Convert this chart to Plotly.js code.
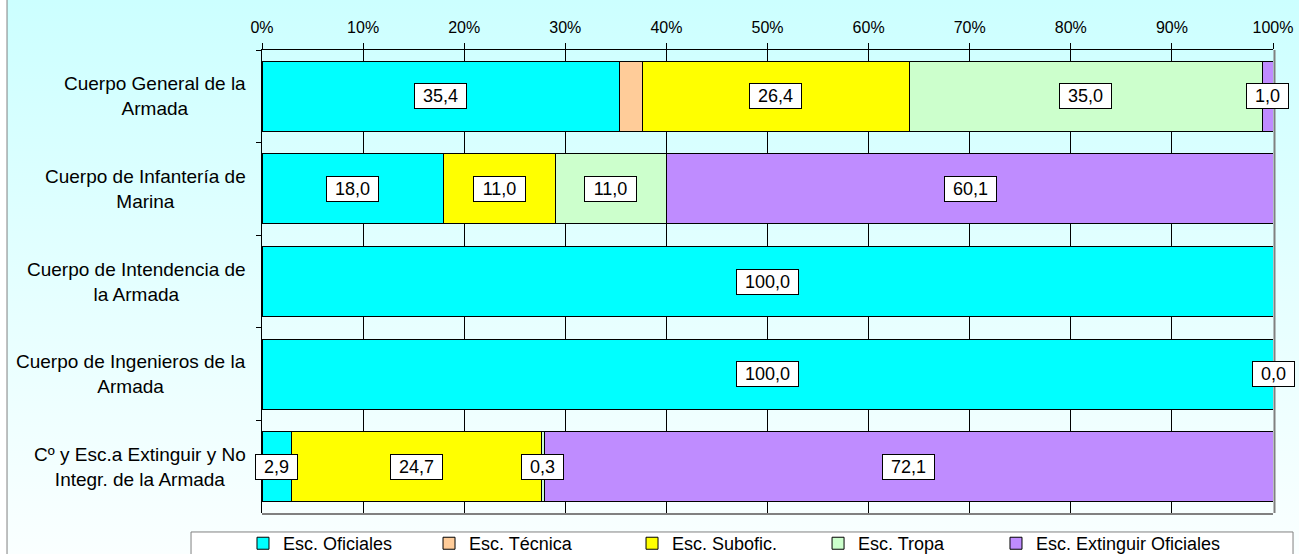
<!DOCTYPE html>
<html>
<head>
<meta charset="utf-8">
<script src="https://cdn.plot.ly/plotly-3.0.1.min.js"></script>
<style>
  html, body { margin: 0; padding: 0; background: #ffffff; }
  #chart { width: 1299px; height: 554px; background: linear-gradient(to bottom, #CCFFFF 0%, #E6FFFF 55%, #FAFFFF 100%); }
</style>
</head>
<body>
<div id="chart"></div>
<script>
// Categories (top to bottom)
const categories = [
  "Cuerpo General de la<br>Armada",
  "Cuerpo de Infantería de<br>Marina",
  "Cuerpo de Intendencia de<br>la Armada",
  "Cuerpo de Ingenieros de la<br>Armada",
  "Cº y Esc.a Extinguir y No<br>Integr. de la Armada"
];
const seriesNames = ["Esc. Oficiales", "Esc. Técnica", "Esc. Subofic.", "Esc. Tropa", "Esc. Extinguir Oficiales"];
const seriesColors = ["#00FFFF", "#FFCC99", "#FFFF00", "#CCFFCC", "#BF8CFF"];

// Values (%)
const oficiales = [35.4, 18.0, 100.0, 100.0, 2.9];
const tecnica   = [2.2, 0, 0, 0, 0];
const subofic   = [26.4, 11.0, 0, 0, 24.7];
const tropa     = [35.0, 11.0, 0, 0, 0.3];
const extinguir = [1.0, 60.1, 0, 0.0, 72.1];

// Which values carry a data label
const showOficiales = [true, true, true, true, true];
const showTecnica   = [false, false, false, false, false];
const showSubofic   = [true, true, false, false, true];
const showTropa     = [true, true, false, false, true];
const showExtinguir = [true, true, false, true, true];

const xTicks = [0, 10, 20, 30, 40, 50, 60, 70, 80, 90, 100];
const xTickText = xTicks.map(v => v + "%");

const seriesValues = [oficiales, tecnica, subofic, tropa, extinguir];
const seriesShow = [showOficiales, showTecnica, showSubofic, showTropa, showExtinguir];

const FONT = "Arial, 'Liberation Sans', sans-serif";
const LBL = 18;
const legendIds = ["legend", "legend2", "legend3", "legend4", "legend5"];
const legendPos = [-0.0188, 0.1652, 0.3660, 0.5500, 0.7260]; // paper x of each legend entry (layout)

const traces = seriesValues.map((vals, i) => ({
  type: "bar",
  orientation: "h",
  name: seriesNames[i],
  legend: legendIds[i],
  y: categories,
  x: vals,
  marker: { color: seriesColors[i], line: { color: "#000000", width: 1 } },
  hoverinfo: "x+name"
}));

const fmt = v => v.toFixed(1).replace(".", ",");
// approximate text width (Arial metrics) to size the label boxes
const textW = (s, fs) => s.split("").reduce((a, ch) => a + (ch === "," ? 0.278 : 0.556), 0) * fs;

const annotations = [];
// category labels
categories.forEach(c => {
  annotations.push({
    xref: "paper", yref: "y", x: 0, y: c, xanchor: "right", yanchor: "middle",
    xshift: -14, text: c, align: "center", showarrow: false,
    font: { family: FONT, size: 19, color: "#000000" }
  });
});
// data labels
const cum = categories.map(() => 0);
seriesValues.forEach((vals, s) => {
  vals.forEach((v, k) => {
    const mid = cum[k] + v / 2;
    if (seriesShow[s][k]) {
      const t = fmt(v);
      annotations.push({
        xref: "x", yref: "y", x: mid, y: categories[k], text: t,
        showarrow: false, bgcolor: "#FFFFFF", bordercolor: "#000000", borderwidth: 1,
        borderpad: 2, width: Math.round(textW(t, LBL) + 12), height: 20,
        font: { family: FONT, size: LBL, color: "#000000" },
        xanchor: "center", yanchor: "middle"
      });
    }
    cum[k] += v;
  });
});

const layout = {
  width: 1299, height: 554,
  margin: { l: 262, r: 26, t: 50, b: 41, pad: 0, autoexpand: false },
  paper_bgcolor: "rgba(0,0,0,0)",
  plot_bgcolor: "rgba(0,0,0,0)",
  barmode: "stack",
  bargap: 0.244,
  font: { family: FONT, size: 16, color: "#000000" },
  showlegend: true,
  xaxis: {
    side: "top", range: [0, 100], tickvals: xTicks, ticktext: xTickText,
    ticks: "outside", ticklen: 6, tickcolor: "#000000", tickwidth: 1,
    showline: true, linecolor: "#000000", linewidth: 1,
    showgrid: true, gridcolor: "#000000", gridwidth: 1, zeroline: false,
    ticklabelstandoff: 4,
    tickfont: { family: FONT, size: 16, color: "#000000" }, fixedrange: true
  },
  yaxis: {
    type: "category", autorange: "reversed", showticklabels: false,
    ticks: "outside", tickson: "boundaries", ticklen: 5, tickcolor: "#000000",
    showline: true, linecolor: "#000000", linewidth: 1, showgrid: false, zeroline: false,
    fixedrange: true
  },
  annotations: annotations,
  shapes: [
    { type: "rect", xref: "paper", yref: "paper", x0: -0.3, x1: -0.2522, y0: -0.2, y1: 1.2, fillcolor: "#FFFFFF", line: { width: 0 }, layer: "below" },
    { type: "line", xref: "paper", yref: "paper", x0: -0.2522, x1: -0.2522, y0: -0.2, y1: 1.2, line: { color: "#808080", width: 1 }, layer: "below" },
    { type: "rect", xref: "paper", yref: "paper", x0: -0.0702, x1: 1.0198, y0: -0.2, y1: -0.041, fillcolor: "#FFFFFF", line: { color: "#808080", width: 1 }, layer: "below" },
    { type: "line", xref: "paper", yref: "paper", xsizemode: "pixel", xanchor: 1, x0: 1.5, x1: 1.5, y0: 0, y1: 1, line: { color: "#808080", width: 2 }, layer: "above" },
    { type: "line", xref: "paper", yref: "paper", ysizemode: "pixel", yanchor: 0, y0: -1, y1: -1, x0: 0, x1: 1, line: { color: "#808080", width: 2 }, layer: "above" }
  ]
};

// one legend per series so each entry sits where the reference puts it
legendIds.forEach((id, i) => {
  layout[id] = {
    orientation: "h", x: legendPos[i], xanchor: "left", y: -0.026, yanchor: "top",
    bgcolor: "rgba(0,0,0,0)", borderwidth: 0,
    font: { family: FONT, size: 18, color: "#000000" }
  };
});

Plotly.newPlot("chart", traces, layout, { displayModeBar: false, staticPlot: true });
</script>
</body>
</html>
